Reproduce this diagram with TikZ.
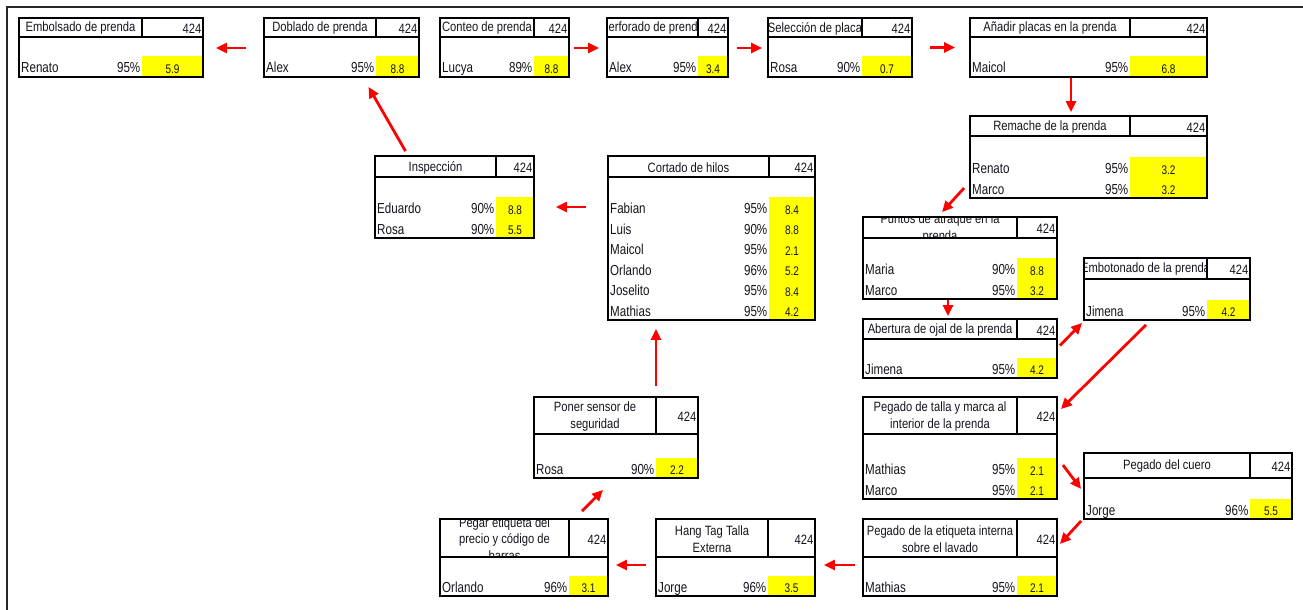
\documentclass[tikz,border=0pt]{standalone}
\usepackage{fontspec}
\setmainfont{Liberation Sans}[FakeStretch=0.83]
\newfontfamily\rowfont{Liberation Sans}[FakeStretch=0.8]
\usetikzlibrary{fit,arrows.meta}
\definecolor{cellyellow}{RGB}{255,255,0}
\definecolor{flowred}{RGB}{255,0,0}
\definecolor{inkcol}{RGB}{20,20,30}

\tikzset{
  boxframe/.style={draw=black, line width=1.8pt, inner sep=0pt},
  gridline/.style={draw=black, line width=1.5pt},
  headtext/.style={font=\fontsize{13.5}{16.5}\selectfont, text=inkcol, inner sep=0pt},
  celltext/.style={font=\rowfont\fontsize{14.5}{17}\selectfont, text=inkcol, inner sep=0pt},
  valtext/.style={font=\rowfont\fontsize{12.5}{14}\selectfont, text=inkcol, inner sep=0pt},
  flow/.style={draw=flowred, line width=2.8pt, -{Triangle[length=11pt,width=10pt]}},
}

% #1 name, #2 left, #3 top, #4 column divider, #5 right,
% #6 header bottom, #7 bottom, #8 task title, #9 worker rows name/pct/value
\newcommand\procbox[9]{%
  \foreach \itm [count=\k] in {#9} {\xdef\nrows{\k}}%
  \pgfmathsetmacro\ytop{#7-20.5*\nrows}%
  \fill[cellyellow] (#4,\ytop) rectangle (#5,#7);
  \foreach \rname/\rpct/\rval [count=\i] in {#9} {%
    \pgfmathsetmacro\rb{#7-20.5*(\nrows-\i)-4}%
    \node[celltext, anchor=base west] (#1-n\i) at (#2+2,\rb) {\rname};
    \node[celltext, anchor=base east] (#1-p\i) at (#4-1.5,\rb) {\rpct};
    \node[valtext, anchor=base] (#1-v\i) at ({(#4+#5)/2},\rb+0.5) {\rval};
  }
  \begin{scope}
    \clip (#2,#3) rectangle (#4,#6);
    \node[headtext, align=center] (#1-t) at ({(#2+#4)/2},{(#3+#6)/2+1}) {#8};
  \end{scope}
  \node[headtext, anchor=east] (#1-q) at (#5-1.5,{(#3+#6)/2+1.5}) {424};
  \draw[gridline] (#2,#6) -- (#5,#6) (#4,#3) -- (#4,#6);
  \node[boxframe, fit={(#2,#3) (#5,#7)}] (#1) {};
}

\begin{document}
\begin{tikzpicture}[x=1pt,y=-1pt]
\useasboundingbox (0,0) rectangle (1303,610);
% sheet frame
\draw[line width=2pt, black!85] (1303,7) -- (7,7) -- (7,610);

% process steps
\procbox{emb}{19}{18}{142}{203}{37}{77}{Embolsado de prenda}{Renato/95\%/5.9}
\procbox{dob}{264}{18}{376}{419}{37}{77}{Doblado de prenda}{Alex/95\%/8.8}
\procbox{con}{440}{18}{534}{569}{37}{77}{Conteo de prenda}{Lucya/89\%/8.8}
\procbox{per}{607}{18}{698}{728}{37}{77}{Perforado de prenda}{Alex/95\%/3.4}
\procbox{sel}{768}{18}{862}{912}{37}{77}{Selección de placa}{Rosa/90\%/0.7}
\procbox{ana}{970}{18}{1130}{1207}{37}{77}{Añadir placas en la prenda}{Maicol/95\%/6.8}
\procbox{rem}{970}{116}{1130}{1207}{136}{198}{Remache de la prenda}{Renato/95\%/3.2,Marco/95\%/3.2}
\procbox{pun}{863}{217}{1017}{1057}{238}{299}{Puntos de atraque en la\\prenda}{Maria/90\%/8.8,Marco/95\%/3.2}
\procbox{abe}{863}{319}{1017}{1057}{339}{378}{Abertura de ojal de la prenda}{Jimena/95\%/4.2}
\procbox{bot}{1084}{258}{1207}{1250}{279}{320}{Embotonado de la prenda}{Jimena/95\%/4.2}
\procbox{tal}{863}{397}{1017}{1057}{434}{499}{Pegado de talla y marca al\\interior de la prenda}{Mathias/95\%/2.1,Marco/95\%/2.1}
\procbox{cue}{1084}{453}{1250}{1292}{478}{519}{Pegado del cuero}{Jorge/96\%/5.5}
\procbox{eti}{863}{519}{1017}{1057}{557}{596}{Pegado de la etiqueta interna\\sobre el lavado}{Mathias/95\%/2.1}
\procbox{han}{656}{519}{768}{815}{557}{596}{Hang Tag Talla\\Externa}{Jorge/96\%/3.5}
\procbox{pre}{440}{519}{569}{608}{557}{596}{Pegar etiqueta del\\precio y código de\\barras}{Orlando/96\%/3.1}
\procbox{sen}{534}{397}{656}{698}{434}{478}{Poner sensor de\\seguridad}{Rosa/90\%/2.2}
\procbox{cor}{608}{156}{769}{815}{177}{320}{Cortado de hilos}{Fabian/95\%/8.4,Luis/90\%/8.8,Maicol/95\%/2.1,Orlando/96\%/5.2,Joselito/95\%/8.4,Mathias/95\%/4.2}
\procbox{ins}{375}{156}{496}{534}{177}{238}{Inspección}{Eduardo/90\%/8.8,Rosa/90\%/5.5}

% flow arrows
\draw[flow] ([shift={(-17,0.5)}]dob.west) -- ([shift={(12,0.5)}]emb.east);
\draw[flow] ([shift={(4,0.5)}]con.east) -- ([shift={(-7,0.5)}]per.west);
\draw[flow] ([shift={(8,0.5)}]per.east) -- ([shift={(-5,0.5)}]sel.west);
\draw[flow] ([shift={(17,0)}]sel.east) -- ([shift={(-14,0)}]ana.west);
\draw[flow] ([shift={(-17.5,0)}]ana.south) -- ([shift={(-17.5,-3)}]rem.north);
\draw[flow] ([shift={(-5,31)}]rem.west) -- ([shift={(-18,-4)}]pun.north);
\draw[flow] ([shift={(-12,0)}]pun.south) -- ([shift={(-12,-2)}]abe.north);
\draw[flow] ([shift={(2,-3)}]abe.east) -- ([shift={(-1,2)}]bot.south west);
\draw[flow] ([shift={(-21,4)}]bot.south) -- ([shift={(3,13)}]tal.north east);
\draw[flow] ([shift={(5,17)}]tal.east) -- ([shift={(-2,3)}]cue.west);
\draw[flow] ([shift={(-2,1)}]cue.south west) -- ([shift={(2,-13.5)}]eti.east);
\draw[flow] ([shift={(-7,7.5)}]eti.west) -- ([shift={(8,7.5)}]han.east);
\draw[flow] ([shift={(-9,7.5)}]han.west) -- ([shift={(7,7.5)}]pre.east);
\draw[flow] ([shift={(58,-7)}]pre.north) -- ([shift={(-13,11)}]sen.south);
\draw[flow] ([shift={(40,-10)}]sen.north) -- ([shift={(-55.5,8)}]cor.south);
\draw[flow] ([shift={(-21,-31)}]cor.west) -- ([shift={(21,10)}]ins.east);
\draw[flow] ([shift={(-49,-4)}]ins.north) -- ([shift={(27,9)}]dob.south);
\end{tikzpicture}
\end{document}
